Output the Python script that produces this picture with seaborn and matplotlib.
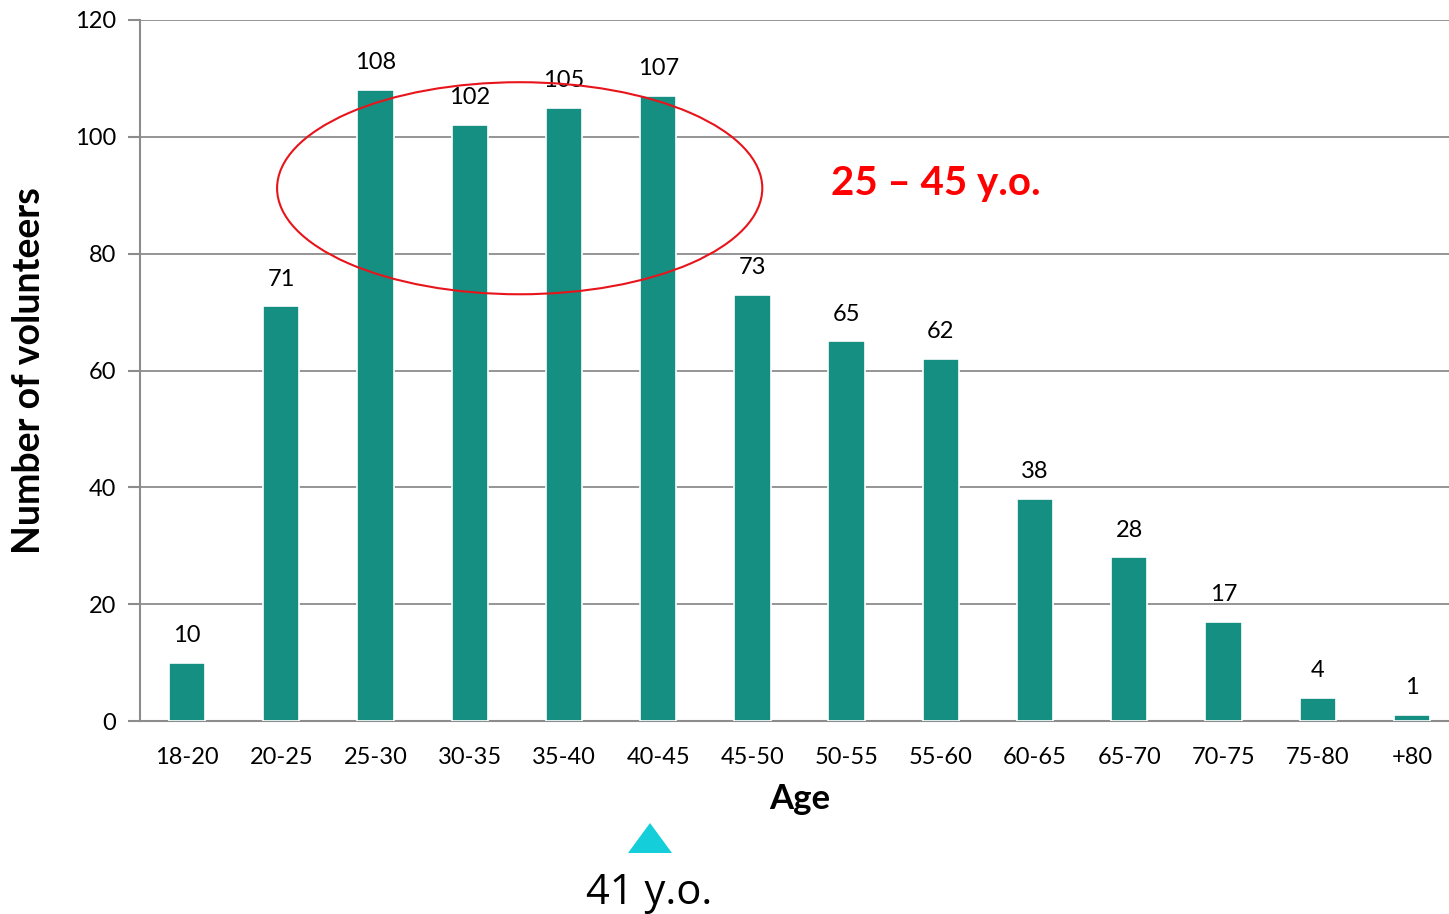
import numpy as np
import pandas as pd
import matplotlib
matplotlib.use("Agg")
import matplotlib.pyplot as plt
import seaborn as sns
from matplotlib.patches import Ellipse, Polygon
from matplotlib.ticker import FixedLocator

# data
age_groups = ["18-20", "20-25", "25-30", "30-35", "35-40", "40-45", "45-50",
              "50-55", "55-60", "60-65", "65-70", "70-75", "75-80", "+80"]
volunteers = [10, 71, 108, 102, 105, 107, 73, 65, 62, 38, 28, 17, 4, 1]
y_ticks = [0, 20, 40, 60, 80, 100, 120]
highlight_text = "25 \u2013 45 y.o."
mean_text = "41 y.o."

df = pd.DataFrame({"age": age_groups, "count": volunteers})

sns.set_style("white")
plt.rcParams["font.family"] = ["Lato", "DejaVu Sans"]
plt.rcParams["text.color"] = "black"
plt.rcParams["axes.labelcolor"] = "black"

W, H = 1449, 914
fig = plt.figure(figsize=(W / 100, H / 100), dpi=100)
ax = fig.add_axes([140 / W, 1 - 721 / H, 1319 / W, 701 / H])

sns.barplot(data=df, x="age", y="count", color="#158F82", saturation=1,
            width=0.385, edgecolor="white", linewidth=1.2, ax=ax, zorder=3)

ax.set_ylim(0, 120)
ax.set_xlim(-0.5, len(age_groups) - 0.5)
ax.set_yticks(y_ticks)
ax.yaxis.grid(True, color="#8c8c8c", linewidth=1.3, zorder=0)
ax.set_axisbelow(True)
for s in ["top", "right"]:
    ax.spines[s].set_visible(False)
for s in ["left", "bottom"]:
    ax.spines[s].set_color("#8c8c8c")
    ax.spines[s].set_linewidth(1.5)

# ticks: labels at centres, tick marks at boundaries
ax.tick_params(axis="x", which="major", length=0, labelsize=17, pad=19,
               labelcolor="black")
ax.xaxis.set_minor_locator(FixedLocator(np.arange(-0.5, len(age_groups), 1)))
ax.tick_params(axis="x", which="minor", length=9, width=1.5, color="#8c8c8c",
               direction="out")
ax.tick_params(axis="y", length=9, width=1.5, color="#8c8c8c", labelsize=17,
               pad=8, left=True, labelcolor="black")

ax.set_xlabel("Age", fontsize=25, fontweight="bold")
ax.xaxis.set_label_coords((800 - 140) / 1319, -62 / 701)
ax.set_ylabel("Number of volunteers", fontsize=27, fontweight="bold")
ax.yaxis.set_label_coords(-94 / 1319, 0.5)

# value labels
for i, v in enumerate(volunteers):
    ax.annotate(str(v), (i, v), xytext=(0, 12), textcoords="offset points",
                ha="center", va="bottom", fontsize=17)

# highlight ellipse and text
ell = Ellipse((3.53, 91.2), 5.15, 36.3, fill=False, edgecolor="#e8141b",
              linewidth=1.5, zorder=5)
ax.add_patch(ell)
ax.text(7.95, 92, highlight_text, color="#ff0000", fontsize=29,
        fontweight="bold", ha="center", va="center")

# mean marker below axis
tri = Polygon([[628 / W, 1 - 853 / H], [672 / W, 1 - 853 / H], [650 / W, 1 - 823 / H]],
              closed=True, transform=fig.transFigure, facecolor="#14CFDA",
              edgecolor="none")
fig.patches.append(tri)
fig.text(649 / W, 1 - 893 / H, mean_text, fontsize=30, ha="center", va="center",
         family=["Open Sans", "DejaVu Sans"])

fig.savefig("out.png", dpi=100)
